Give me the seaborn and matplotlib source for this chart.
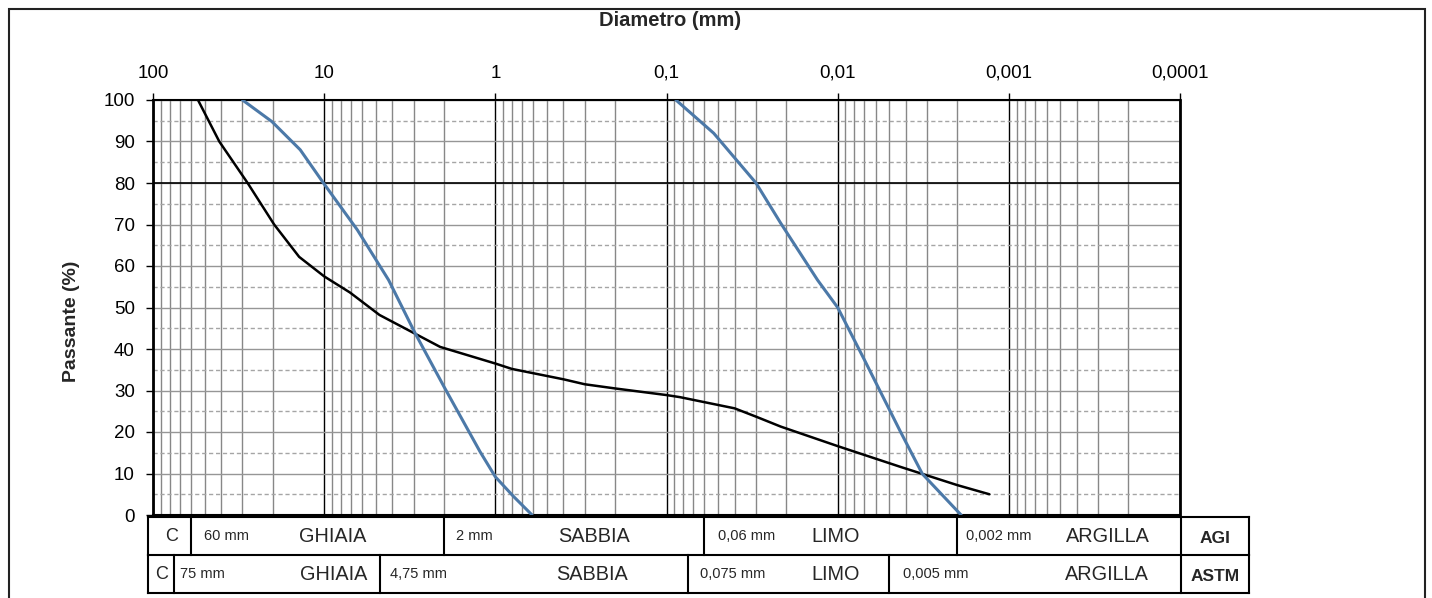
import numpy as np
import pandas as pd
import matplotlib
matplotlib.use("Agg")
import matplotlib.pyplot as plt
import seaborn as sns
from matplotlib.transforms import blended_transform_factory
from matplotlib.patches import Rectangle
from matplotlib.ticker import NullFormatter, LogLocator, MultipleLocator

sns.set_theme(style="white")
plt.rcParams['font.family'] = ['Liberation Sans', 'DejaVu Sans']

# ---------------- data ----------------
black_d = [54.6, 41, 28, 19.6, 14, 10, 7.06, 4.75, 2.1, 1.0, 0.8, 0.4, 0.3, 0.2,
           0.1, 0.0835, 0.04, 0.03, 0.0215, 0.01, 0.0043, 0.0032, 0.002, 0.0013]
black_p = [100, 90, 80, 70, 62.2, 57.5, 53.6, 48.2, 40.5, 36.5, 35.2, 32.7, 31.5, 30.5,
           28.9, 28.4, 25.7, 23.7, 21.3, 16.6, 11.6, 9.9, 7.2, 5.0]

blue_coarse_d = [30, 20.2, 13.8, 10.1, 6.4, 4.2, 2.95, 2.0, 1.23, 1.0, 0.78, 0.61]
blue_coarse_p = [100, 94.8, 88, 80, 68.7, 56.6, 43.9, 31, 15.3, 9.2, 4.4, 0]

blue_fine_d = [0.0881, 0.053, 0.03, 0.0215, 0.0131, 0.01, 0.007, 0.0043, 0.0032, 0.0019]
blue_fine_p = [100, 92, 80, 70.3, 56.6, 50, 37.5, 20.1, 9.9, 0]

x_tick_values = [100, 10, 1, 0.1, 0.01, 0.001, 0.0001]
x_tick_labels = ['100', '10', '1', '0,1', '0,01', '0,001', '0,0001']
y_ticks = list(range(0, 101, 10))

agi_bounds = [60, 2, 0.06, 0.002]
agi_sizes = ['60 mm', '2 mm', '0,06 mm', '0,002 mm']
astm_bounds = [75, 4.75, 0.075, 0.005]
astm_sizes = ['75 mm', '4,75 mm', '0,075 mm', '0,005 mm']
class_names = ['GHIAIA', 'SABBIA', 'LIMO', 'ARGILLA']
standards = ['AGI', 'ASTM']

# ---------------- layout ----------------
W, H = 1432, 598
fig = plt.figure(figsize=(W / 100, H / 100), dpi=100)
ax = fig.add_axes([153 / W, 1 - 515 / H, 1027 / W, 415 / H])

BLUE = '#4c79a8'
df = pd.concat([
    pd.DataFrame({'d': black_d, 'p': black_p, 's': 'black'}),
    pd.DataFrame({'d': blue_coarse_d, 'p': blue_coarse_p, 's': 'coarse'}),
    pd.DataFrame({'d': blue_fine_d, 'p': blue_fine_p, 's': 'fine'}),
])
styles = {'black': ('black', 1.8), 'coarse': (BLUE, 2.2), 'fine': (BLUE, 2.2)}
for name, sub in df.groupby('s', sort=False):
    c, lw = styles[name]
    sns.lineplot(data=sub, x='d', y='p', sort=False, estimator=None,
                 color=c, linewidth=lw, ax=ax, zorder=5)

ax.set_xscale('log')
ax.set_xlim(100, 1e-4)
ax.set_ylim(0, 100)
ax.set_xlabel('')
ax.set_ylabel('')

# grids
ax.xaxis.set_minor_locator(LogLocator(base=10, subs=np.arange(2, 10)))
ax.xaxis.set_minor_formatter(NullFormatter())
ax.yaxis.set_minor_locator(MultipleLocator(5))
ax.grid(which='minor', axis='x', color='#878787', linewidth=1.0)
ax.grid(which='major', axis='x', color='black', linewidth=1.0)
ax.grid(which='major', axis='y', color='#969696', linewidth=1.0)
ax.grid(which='minor', axis='y', color='#a5a5a5', linewidth=1.0, linestyle=(0, (3, 2)))
ax.axhline(80, color='black', linewidth=1.2, zorder=3)
ax.set_axisbelow(True)

ax.xaxis.tick_top()
ax.set_xticks(x_tick_values)
ax.set_xticklabels(x_tick_labels, fontsize=13.5)
ax.set_yticks(y_ticks)
ax.set_yticklabels([str(v) for v in y_ticks], fontsize=13.5)
ax.tick_params(axis='x', which='major', top=True, bottom=False, length=5, width=1,
               color='black', pad=8, labelcolor='black')
ax.tick_params(axis='y', which='major', left=True, length=5, width=1,
               color='black', pad=8, labelcolor='black')
ax.tick_params(which='minor', length=0)

for side, lw in [('left', 2.0), ('right', 2.0), ('top', 1.5), ('bottom', 1.5)]:
    ax.spines[side].set_color('black')
    ax.spines[side].set_linewidth(lw)
    ax.spines[side].set_visible(True)

fig.text(670 / W, 1 - 20 / H, 'Diametro (mm)', ha='center', va='center',
         fontweight='bold', fontsize=14.5)
fig.text(72 / W, 1 - 321 / H, 'Passante (%)', ha='center', va='center',
         rotation=90, fontweight='bold', fontsize=14)

# ---------------- classification table ----------------
bt = blended_transform_factory(ax.transData, ax.transAxes)
tA = ax.transAxes
xl, xr1, xr2 = -0.005, 1.001, 1.0672
rows_y = [(-0.005, -0.0964), (-0.0964, -0.188)]
lkw = dict(color='black', linewidth=1.5, clip_on=False, solid_capstyle='projecting')
for yv in [rows_y[0][0], rows_y[0][1], rows_y[1][1]]:
    ax.plot([xl, xr2], [yv, yv], transform=tA, **lkw)
for (yt, yb) in rows_y:
    for xv in [xl, xr1, xr2]:
        ax.plot([xv, xv], [yt, yb], transform=tA, **lkw)

size_offsets = [[13, 12, 13.5, 9], [5.6, 10.5, 12, 14]]
class_x = [[0.1753, 0.4294, 0.665, 0.9299], [0.1762, 0.4275, 0.665, 0.929]]
c_x = [0.0180, 0.0083]
for r, (bounds, sizes) in enumerate([(agi_bounds, agi_sizes), (astm_bounds, astm_sizes)]):
    yt, yb = rows_y[r]
    yc = (yt + yb) / 2
    for b in bounds:
        ax.plot([b, b], [yt, yb], transform=bt, **lkw)
    for b, s, off in zip(bounds, sizes, size_offsets[r]):
        ax.annotate(s, xy=(b, yc), xycoords=bt, xytext=(off, 0),
                    textcoords='offset pixels', ha='left', va='center',
                    fontsize=10.5, annotation_clip=False)
    for cx, name in zip(class_x[r], class_names):
        ax.text(cx, yc, name, transform=tA, ha='center', va='center', fontsize=14.3)
    ax.text(c_x[r], yc, 'C', transform=tA, ha='center', va='center', fontsize=13)
    ax.text((xr1 + xr2) / 2, yc - 0.005, standards[r], transform=tA, ha='center',
            va='center', fontsize=12.5, fontweight='bold')

# outer frame
fig.add_artist(Rectangle((9 / W, -0.05), (1425 - 9) / W, 1 - 9 / H + 0.05,
                         transform=fig.transFigure, fill=False,
                         edgecolor='#222222', linewidth=1.5))

fig.savefig('out.png', dpi=100)
